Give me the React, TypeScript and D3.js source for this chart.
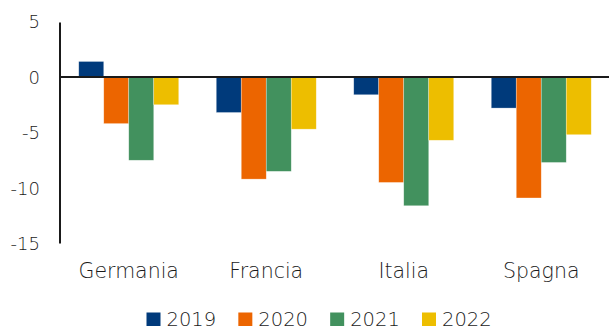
import React from "react";
import * as d3 from "d3";

const categories = ["Germania", "Francia", "Italia", "Spagna"];
const seriesNames = ["2019", "2020", "2021", "2022"];
const values2019 = [1.4, -3.2, -1.6, -2.8];
const values2020 = [-4.2, -9.2, -9.5, -10.9];
const values2021 = [-7.5, -8.5, -11.6, -7.7];
const values2022 = [-2.5, -4.7, -5.7, -5.2];
const yTicks = [5, 0, -5, -10, -15];
const colors = ["#003A7B", "#EC6500", "#42915E", "#EDBE00"];

const W = 609;
const H = 329;
const FONT = "'DejaVu Sans', sans-serif";

export default function App() {
  const series = [values2019, values2020, values2021, values2022];
  const x = d3.scaleBand<string>().domain(categories).range([60, 610]).paddingInner(0.2727).paddingOuter(0.1364);
  const xs = d3.scaleBand<string>().domain(seriesNames).range([0, x.bandwidth()]);
  const y = d3.scaleLinear().domain([-15, 5]).range([243.5, 21.5]);
  const legendX = d3.scalePoint<string>().domain(seriesNames).range([146.5, 422]);

  return (
    <svg width={W} height={H} style={{ position: "absolute", left: 0, top: 0 }}>
      <rect width={W} height={H} fill="#fff" />
      {categories.map((c, ci) =>
        series.map((vals, si) => {
          const v = vals[ci];
          const y0 = y(0);
          const y1 = y(v);
          return (
            <rect
              key={c + si}
              x={(x(c) as number) + (xs(seriesNames[si]) as number)}
              y={Math.min(y0, y1)}
              width={xs.bandwidth()}
              height={Math.abs(y1 - y0)}
              fill={colors[si]}
              stroke="#ffffff"
              strokeOpacity={0.5}
              strokeWidth={0.6}
            />
          );
        })
      )}
      <line x1={60} x2={609} y1={y(0)} y2={y(0)} stroke="#1a1a1a" strokeWidth={2} />
      <line x1={60} x2={60} y1={y(5) + 1} y2={y(-15)} stroke="#1a1a1a" strokeWidth={2} />
      {yTicks.map((t) => (
        <text
          key={t}
          x={40}
          y={y(t)}
          textAnchor="end"
          dominantBaseline="central"
          fontFamily={FONT}
          fontWeight={300}
          fontSize={18}
          fill="#1a1a1a"
        >
          {t < 0 ? "-" + Math.abs(t) : String(t)}
        </text>
      ))}
      {categories.map((c) => (
        <text
          key={c}
          x={(x(c) as number) + x.bandwidth() / 2}
          y={278}
          textAnchor="middle"
          fontFamily={FONT}
          fontWeight={300}
          fontSize={20.5}
          fill="#1a1a1a"
        >
          {c}
        </text>
      ))}
      {seriesNames.map((s, i) => (
        <g key={s} transform={`translate(${legendX(s)},0)`}>
          <rect x={0} y={312.5} width={14} height={13.5} fill={colors[i]} />
          <text x={20} y={325.5} fontFamily={FONT} fontWeight={300} fontSize={19.5} fill="#1a1a1a">
            {s}
          </text>
        </g>
      ))}
    </svg>
  );
}
